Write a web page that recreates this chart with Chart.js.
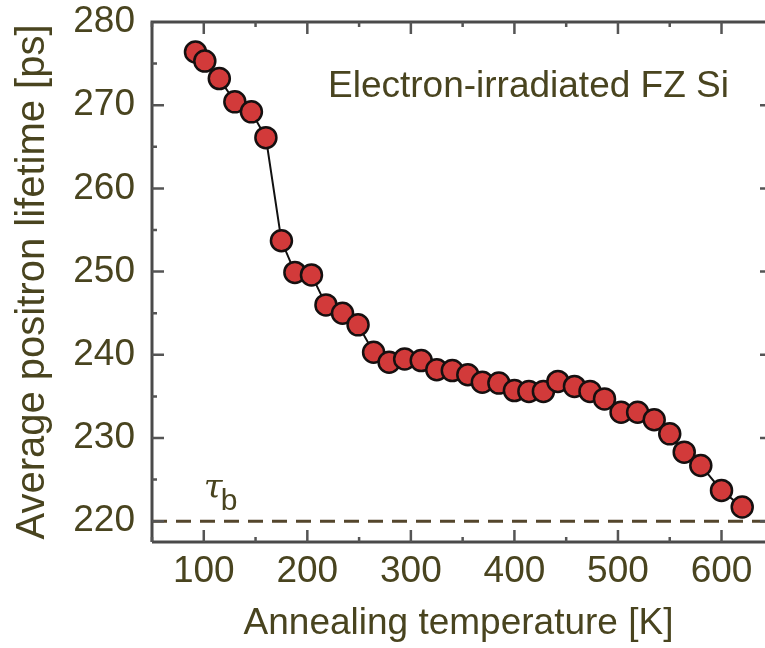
<!DOCTYPE html>
<html>
<head>
<meta charset="utf-8">
<script src="https://cdn.jsdelivr.net/npm/chart.js@4.4.1/dist/chart.umd.min.js"></script>
<style>
  body { margin: 0; background: #fff; }
  #wrap { width: 765px; height: 648px; }
</style>
</head>
<body>
<div id="wrap"><canvas id="lifetimeChart"></canvas></div>
<script>
// Annealing data
const temperatures = [92, 101, 115, 130, 146, 160, 175, 188, 204, 218, 234, 249, 264, 279, 294, 310, 325, 340,
    355, 369, 385, 400, 414, 428, 442, 458, 473, 487, 503, 519, 535, 550, 564, 580, 600, 620];
const lifetimes = [276.4, 275.3, 273.2, 270.4, 269.2, 266.1, 253.7, 249.9, 249.6, 246.0, 245.0, 243.6, 240.3, 239.1,
    239.5, 239.3, 238.2, 238.1, 237.6, 236.7, 236.6, 235.7, 235.6, 235.6, 236.8, 236.2, 235.6, 234.7, 233.1, 233.1,
    232.2, 230.5, 228.3, 226.7, 223.7, 221.7];
const bulkLifetime = 220; // tau_b
const xMin = 50, xMax = 642;
const yMin = 217.5, yMax = 280;
const xTickLabels = [100, 200, 300, 400, 500, 600];
const yTickLabels = [220, 230, 240, 250, 260, 270, 280];

const textColor = '#49441f';
const axisColor = '#4a4a4a';
const fontFamily = '"Liberation Sans", Arial, sans-serif';

// frame, inward ticks and text labels
const framePlugin = {
    id: 'frame',
    afterDraw(chart) {
        const ctx = chart.ctx;
        const area = chart.chartArea;
        const xs = chart.scales.x;
        const ys = chart.scales.y;
        ctx.save();
        ctx.strokeStyle = axisColor;
        ctx.lineWidth = 3;
        ctx.beginPath();
        ctx.moveTo(area.left, area.bottom);
        ctx.lineTo(area.left, area.top);
        ctx.lineTo(area.right, area.top);
        ctx.moveTo(area.left, area.bottom);
        ctx.lineTo(area.right, area.bottom);
        ctx.stroke();

        ctx.strokeStyle = '#555';
        ctx.lineWidth = 2.5;
        ctx.beginPath();
        for (let v = 50; v <= xMax; v += 50) {
            const px = xs.getPixelForValue(v);
            const len = v % 100 === 0 ? 12 : 5;
            ctx.moveTo(px, area.bottom);
            ctx.lineTo(px, area.bottom - len);
            ctx.moveTo(px, area.top);
            ctx.lineTo(px, area.top + len);
        }
        for (let v = 220; v < yMax; v += 5) {
            const py = ys.getPixelForValue(v);
            const len = v % 10 === 0 ? 12 : 5;
            ctx.moveTo(area.left, py);
            ctx.lineTo(area.left + len, py);
            if (v % 10 === 0) {
                ctx.moveTo(area.right, py);
                ctx.lineTo(area.right - 5, py);
            }
        }
        ctx.stroke();

        ctx.fillStyle = textColor;
        ctx.textBaseline = 'alphabetic';
        ctx.textAlign = 'left';
        ctx.font = '37px ' + fontFamily;
        ctx.fillText('Electron-irradiated FZ Si', area.left + 176, area.top + 75);

        const tx = xs.getPixelForValue(100);
        const ty = ys.getPixelForValue(bulkLifetime) - 23;
        ctx.font = 'italic 34px "DejaVu Serif", serif';
        ctx.fillText('τ', tx, ty);
        ctx.font = '30px ' + fontFamily;
        ctx.fillText('b', tx + 17, ty + 12);
        ctx.restore();
    }
};

new Chart(document.getElementById('lifetimeChart'), {
    type: 'line',
    data: {
        datasets: [{
            data: temperatures.map((t, i) => ({ x: t, y: lifetimes[i] })),
            borderColor: '#111',
            borderWidth: 2,
            pointRadius: 10.5,
            pointBorderWidth: 2.5,
            pointBackgroundColor: '#d23a3a',
            pointBorderColor: '#151010',
            tension: 0
        }, {
            data: [{ x: xMin, y: bulkLifetime }, { x: xMax, y: bulkLifetime }],
            borderColor: '#54462c',
            borderWidth: 3,
            borderDash: [15, 9],
            pointRadius: 0
        }]
    },
    options: {
        responsive: true,
        maintainAspectRatio: false,
        animation: false,
        layout: { autoPadding: false, padding: { top: 22, right: 0, bottom: 0, left: 0 } },
        plugins: {
            legend: { display: false },
            tooltip: { enabled: false }
        },
        scales: {
            x: {
                type: 'linear',
                min: xMin,
                max: xMax,
                grid: { display: false, drawTicks: false },
                border: { display: false },
                ticks: {
                    padding: 8,
                    maxRotation: 0,
                    autoSkip: false,
                    color: textColor,
                    font: { family: fontFamily, size: 37 }
                },
                afterBuildTicks: scale => { scale.ticks = xTickLabels.map(v => ({ value: v })); },
                title: {
                    display: true,
                    text: 'Annealing temperature [K]',
                    color: textColor,
                    font: { family: fontFamily, size: 37 },
                    padding: { top: 0, bottom: 2 }
                },
                afterFit: scale => {
                    scale.height = 106;
                    scale.paddingLeft = 0;
                    scale.paddingRight = 0;
                }
            },
            y: {
                min: yMin,
                max: yMax,
                grid: { display: false, drawTicks: false },
                border: { display: false },
                ticks: {
                    padding: 17,
                    autoSkip: false,
                    color: textColor,
                    font: { family: fontFamily, size: 37 }
                },
                afterBuildTicks: scale => { scale.ticks = yTickLabels.map(v => ({ value: v })); },
                title: {
                    display: true,
                    text: 'Average positron lifetime [ps]',
                    color: textColor,
                    font: { family: fontFamily, size: 40 },
                    padding: { top: 9, bottom: 0 }
                },
                afterFit: scale => {
                    scale.width = 152;
                    scale.paddingTop = 0;
                    scale.paddingBottom = 0;
                }
            }
        }
    },
    plugins: [framePlugin]
});
</script>
</body>
</html>
